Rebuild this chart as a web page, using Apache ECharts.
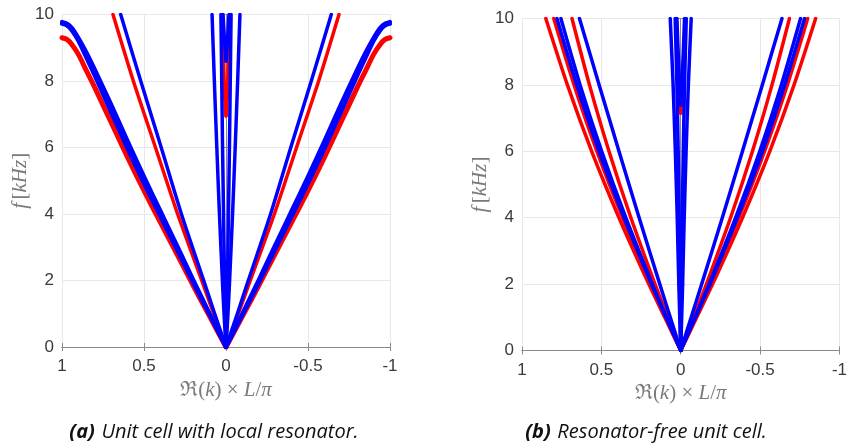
<!DOCTYPE html>
<html>
<head>
<meta charset="utf-8">
<script src="https://cdn.jsdelivr.net/npm/echarts@6/dist/echarts.min.js"></script>
<style>
  html, body { margin: 0; padding: 0; background: #ffffff; }
  #chart { width: 850px; height: 446px; }
</style>
</head>
<body>
<div id="chart"></div>
<script>
// ---- Tick values ----
const kTicks = [-1, -0.5, 0, 0.5, 1];
const fTicks = [0, 2, 4, 6, 8, 10];

// ---- (a) Unit cell with local resonator ----
// Lowest branches, given as f [kHz] on a grid of Re(k)L/pi
const kGridA = [0, 0.1, 0.2, 0.3, 0.4, 0.5, 0.6, 0.7, 0.8, 0.85, 0.9, 0.94, 0.97, 1];
const aOuterRed   = [0, 0.92, 1.85, 2.8, 3.75, 4.7, 5.7, 6.75, 7.8, 8.3, 8.8, 9.1, 9.25, 9.3];
const aOuterBlue1 = [0, 0.96, 1.93, 2.93, 3.92, 4.91, 5.96, 7.05, 8.15, 8.68, 9.2, 9.52, 9.67, 9.72];
const aOuterBlue2 = [0, 1.01, 2.03, 3.07, 4.1, 5.13, 6.2, 7.3, 8.35, 8.85, 9.3, 9.6, 9.73, 9.78];
// Steeper branches, given as Re(k)L/pi on a grid of f [kHz]
const fGridA = [0, 1, 2, 4, 6, 8, 10];
const aInnerRed  = [0, 0.075, 0.148, 0.295, 0.43, 0.565, 0.689];
const aInnerBlue = [0, 0.069, 0.136, 0.272, 0.395, 0.52, 0.642];
const aCentreBlueA = [0, 0.012, 0.022, 0.04, 0.056, 0.071, 0.085];
const aCentreBlueB = [0, 0.005, 0.009, 0.015, 0.021, 0.026, 0.031];
// Branches starting above zero frequency
const aOptRedF  = [6.95, 7.5, 8, 9, 10];
const aOptRedK  = [0, 0.007, 0.011, 0.017, 0.024];
const aOptBlueF = [8.6, 9.3, 10];
const aOptBlueK = [0, 0.01, 0.018];

// ---- (b) Resonator-free unit cell ----
const fGridB = [0, 0.5, 1, 2, 4, 6, 8, 10];
const bRed1  = [0, 0.051, 0.101, 0.201, 0.389, 0.561, 0.714, 0.85];
const bRed2  = [0, 0.048, 0.095, 0.19, 0.366, 0.528, 0.672, 0.80];
const bBlue1 = [0, 0.046, 0.093, 0.185, 0.357, 0.515, 0.655, 0.78];
const bBlue2 = [0, 0.045, 0.09, 0.179, 0.346, 0.498, 0.634, 0.755];
const bRed3  = [0, 0.041, 0.082, 0.162, 0.314, 0.452, 0.575, 0.685];
const bBlue3 = [0, 0.033, 0.066, 0.132, 0.262, 0.389, 0.514, 0.638];
const fGridBc = [0, 2, 4, 6, 8, 10];
const bCentreBlueA = [0, 0.012, 0.022, 0.034, 0.048, 0.066];
const bCentreBlueB = [0, 0.005, 0.01, 0.016, 0.024, 0.035];
const bOptRedF  = [7.15, 8, 9, 10];
const bOptRedK  = [0, 0.01, 0.02, 0.03];
const bOptBlueF = [7.4, 8.5, 10];
const bOptBlueK = [0, 0.012, 0.024];

const RED = '#ff0000';
const BLUE = '#0000ff';
const axisGray = '#8a8a8a';
const labelColor = '#3a3a3a';
const nameColor = '#7a7a7a';
const splitColor = '#e8e8e8';

// Pairs (k, f) for one half of the symmetric branch; sign picks the side
function fromKF(ks, fs, sign) { return ks.map((k, i) => [sign * k, fs[i]]); }

const series = [];
function addBranch(panel, ks, fs, color, width) {
  [1, -1].forEach(sign => {
    series.push({
      type: 'line',
      xAxisIndex: panel * 2,
      yAxisIndex: panel * 2,
      data: fromKF(ks, fs, sign),
      showSymbol: false,
      symbol: 'none',
      smooth: 0.25,
      clip: true,
      silent: true,
      lineStyle: { color: color, width: width, join: 'round', cap: 'round' },
      z: color === BLUE ? 3 : 2
    });
  });
}

// panel (a)
addBranch(0, kGridA, aOuterRed, RED, 5);
addBranch(0, aInnerRed, fGridA, RED, 3.5);
addBranch(0, aOptRedK, aOptRedF, RED, 3.5);
addBranch(0, kGridA, aOuterBlue1, BLUE, 4);
addBranch(0, kGridA, aOuterBlue2, BLUE, 4);
addBranch(0, aInnerBlue, fGridA, BLUE, 3.5);
addBranch(0, aCentreBlueA, fGridA, BLUE, 3.5);
addBranch(0, aCentreBlueB, fGridA, BLUE, 3.5);
addBranch(0, aOptBlueK, aOptBlueF, BLUE, 3.5);

// panel (b)
addBranch(1, bRed1, fGridB, RED, 3.5);
addBranch(1, bRed2, fGridB, RED, 3.5);
addBranch(1, bRed3, fGridB, RED, 3.5);
addBranch(1, bOptRedK, bOptRedF, RED, 3.5);
addBranch(1, bBlue1, fGridB, BLUE, 3.5);
addBranch(1, bBlue2, fGridB, BLUE, 3.5);
addBranch(1, bBlue3, fGridB, BLUE, 3.5);
addBranch(1, bCentreBlueA, fGridBc, BLUE, 3.5);
addBranch(1, bCentreBlueB, fGridBc, BLUE, 3.5);
addBranch(1, bOptBlueK, bOptBlueF, BLUE, 3.5);

const serifRich = {
  r: { fontFamily: 'Liberation Serif', fontSize: 21, color: nameColor },
  i: { fontFamily: 'Liberation Serif', fontStyle: 'italic', fontSize: 21, color: nameColor }
};

function xAxes(gridIndex) {
  return [
    {
      type: 'value', gridIndex: gridIndex, position: 'bottom', inverse: true,
      min: kTicks[0], max: kTicks[kTicks.length - 1], interval: 0.5,
      axisLine: { show: true, lineStyle: { color: axisGray, width: 1 } },
      axisTick: { show: true, inside: true, length: 4, lineStyle: { color: axisGray } },
      axisLabel: { show: true, margin: 11, color: labelColor, fontFamily: 'Liberation Sans', fontSize: 17 },
      splitLine: { show: true, lineStyle: { color: splitColor, width: 1 } },
      name: '{r|ℜ(}{i|k}{r|) × }{i|L}{r|/}{i|π}',
      nameLocation: 'middle', nameGap: 30,
      nameTextStyle: { rich: serifRich }
    },
    {
      type: 'value', gridIndex: gridIndex, position: 'top', inverse: true,
      min: kTicks[0], max: kTicks[kTicks.length - 1], interval: 0.5,
      axisLine: { show: true, lineStyle: { color: axisGray, width: 1 } },
      axisTick: { show: true, inside: true, length: 4, lineStyle: { color: axisGray } },
      axisLabel: { show: false },
      splitLine: { show: false }
    }
  ];
}

function yAxes(gridIndex, gap) {
  return [
    {
      type: 'value', gridIndex: gridIndex, position: 'left',
      min: fTicks[0], max: fTicks[fTicks.length - 1], interval: 2,
      axisLine: { show: true, lineStyle: { color: axisGray, width: 1 } },
      axisTick: { show: true, inside: true, length: 4, lineStyle: { color: axisGray } },
      axisLabel: { show: true, margin: 8, color: labelColor, fontFamily: 'Liberation Sans', fontSize: 17 },
      splitLine: { show: true, lineStyle: { color: splitColor, width: 1 } },
      name: '{i|f} {r|[}{i|kHz}{r|]}',
      nameLocation: 'middle', nameGap: gap, nameRotate: 90,
      nameTextStyle: { rich: serifRich }
    },
    {
      type: 'value', gridIndex: gridIndex, position: 'right',
      min: fTicks[0], max: fTicks[fTicks.length - 1], interval: 2,
      axisLine: { show: true, lineStyle: { color: axisGray, width: 1 } },
      axisTick: { show: true, inside: true, length: 4, lineStyle: { color: axisGray } },
      axisLabel: { show: false },
      splitLine: { show: false }
    }
  ];
}

const captionRich = {
  b: { fontFamily: 'Open Sans', fontStyle: 'italic', fontWeight: 'bold', fontSize: 20, fill: '#111111' },
  t: { fontFamily: 'Open Sans', fontStyle: 'italic', fontSize: 20, fill: '#111111' }
};

const option = {
  animation: false,
  backgroundColor: '#ffffff',
  grid: [
    { left: 62, top: 14.5, width: 328, height: 332.5 },
    { left: 522, top: 18.5, width: 328, height: 332 }
  ],
  xAxis: xAxes(0).concat(xAxes(1)),
  yAxis: yAxes(0, 29).concat(yAxes(1, 31)),
  series: series,
  graphic: [
    {
      type: 'text',
      style: { text: '{b|(a)}  {t|Unit cell with local resonator.}', rich: captionRich,
               x: 214, y: 432, align: 'center', verticalAlign: 'middle' }
    },
    {
      type: 'text',
      style: { text: '{b|(b)}  {t|Resonator-free unit cell.}', rich: captionRich,
               x: 646, y: 432, align: 'center', verticalAlign: 'middle' }
    }
  ]
};

const chart = echarts.init(document.getElementById('chart'), null, { renderer: 'canvas' });
chart.setOption(option);
</script>
</body>
</html>
